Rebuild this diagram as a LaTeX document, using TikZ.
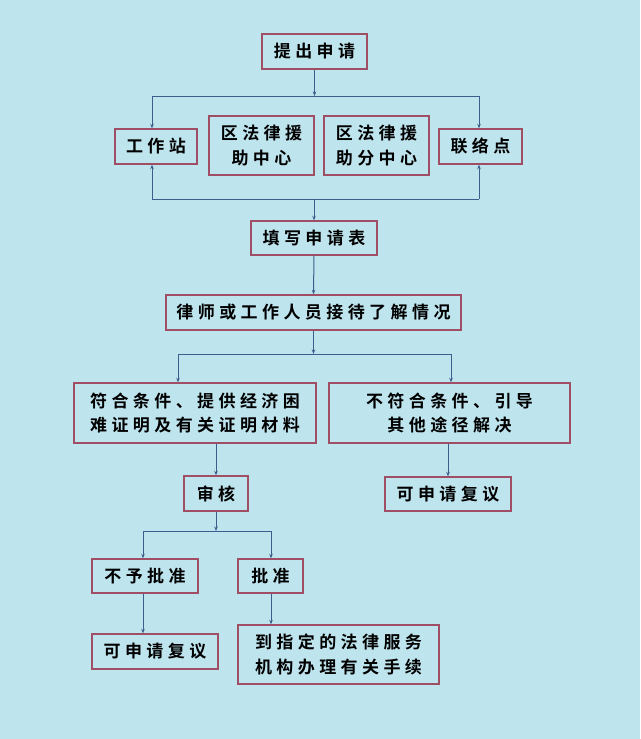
\documentclass[tikz,border=0pt]{standalone}
\usepackage{fontspec}
\usetikzlibrary{arrows.meta}
\newfontfamily\cjk[LetterSpace=26]{Noto Sans CJK SC Bold}
\definecolor{bgblue}{RGB}{190,228,238}
\definecolor{boxred}{RGB}{160,78,100}
\definecolor{lineblue}{RGB}{62,92,140}
\begin{document}
\begin{tikzpicture}[x=1pt,y=-1pt,
  box/.style={draw=boxred, line width=1.4pt, fill=bgblue, inner sep=0pt, align=center,
    font=\cjk\fontsize{17}{24.5}\selectfont, text=black},
  conn/.style={draw=lineblue, line width=1pt},
  arr/.style={conn, -{Stealth[length=4.5pt,width=3.5pt]}}]
\fill[bgblue] (0,0) rectangle (640,739);
\useasboundingbox (0,0) rectangle (640,739);
% nodes
\node[box, minimum width=105pt, minimum height=35pt] (apply) at (314.5,51.5) {提出申请};
\node[box, minimum width=82pt, minimum height=35pt] (ws) at (156,146.5) {工作站};
\node[box, minimum width=105pt, minimum height=59pt] (c1) at (261.5,145.5) {区法律援\\助中心};
\node[box, minimum width=105pt, minimum height=59pt] (c2) at (376.5,145.5) {区法律援\\助分中心};
\node[box, minimum width=83pt, minimum height=35pt] (ld) at (480.5,146.5) {联络点};
\node[box, minimum width=126pt, minimum height=34pt] (form) at (314,238) {填写申请表};
\node[box, minimum width=295pt, minimum height=35pt] (recv) at (313.5,312.5) {律师或工作人员接待了解情况};
\node[box, minimum width=242pt, minimum height=60pt] (yes) at (195,413) {符合条件、提供经济困\\难证明及有关证明材料};
\node[box, minimum width=241pt, minimum height=60pt] (no) at (449.5,413) {不符合条件、引导\\其他途径解决};
\node[box, minimum width=64pt, minimum height=35pt] (review) at (216,493.5) {审核};
\node[box, minimum width=126pt, minimum height=34pt] (recon1) at (448,494) {可申请复议};
\node[box, minimum width=106pt, minimum height=34pt] (deny) at (145,576) {不予批准};
\node[box, minimum width=65pt, minimum height=34pt] (approve) at (270.5,576) {批准};
\node[box, minimum width=126pt, minimum height=35pt] (recon2) at (155,651.5) {可申请复议};
\node[box, minimum width=201pt, minimum height=59pt] (proc) at (338.5,654.5) {到指定的法律服务\\机构办理有关手续};
% junction coordinates
\coordinate (j1) at (314.5,96);
\coordinate (j1l) at (152,96);
\coordinate (j1r) at (479,96);
\coordinate (j2) at (314,199);
\coordinate (j2l) at (152,199);
\coordinate (j2r) at (479,199);
\coordinate (j3) at (313.5,354);
\coordinate (j3l) at (178,354);
\coordinate (j3r) at (451,354);
\coordinate (j4) at (216,531);
\coordinate (j4l) at (143,531);
\coordinate (j4r) at (271,531);
% connectors
\draw[arr] (apply.south) -- (j1);
\draw[conn] (j1l) -- (j1r);
\draw[arr] (j1l) -- (j1l |- ws.north);
\draw[arr] (j1r) -- (j1r |- ld.north);
\draw[conn] (j2l) -- (j2r);
\draw[arr] (j2l) -- (j2l |- ws.south);
\draw[arr] (j2r) -- (j2r |- ld.south);
\draw[arr] (j2) -- (form.north);
\draw[arr] (form.south) -- (recv.north);
\draw[arr] (recv.south) -- (j3);
\draw[conn] (j3l) -- (j3r);
\draw[arr] (j3l) -- (j3l |- yes.north);
\draw[arr] (j3r) -- (j3r |- no.north);
\draw[arr] (review.north |- yes.south) -- (review.north);
\draw[arr] (recon1.north |- no.south) -- (recon1.north);
\draw[arr] (review.south) -- (j4);
\draw[conn] (j4l) -- (j4r);
\draw[arr] (j4l) -- (j4l |- deny.north);
\draw[arr] (j4r) -- (j4r |- approve.north);
\draw[arr] (j4l |- deny.south) -- (j4l |- recon2.north);
\draw[arr] (j4r |- approve.south) -- (j4r |- proc.north);
\end{tikzpicture}
\end{document}
